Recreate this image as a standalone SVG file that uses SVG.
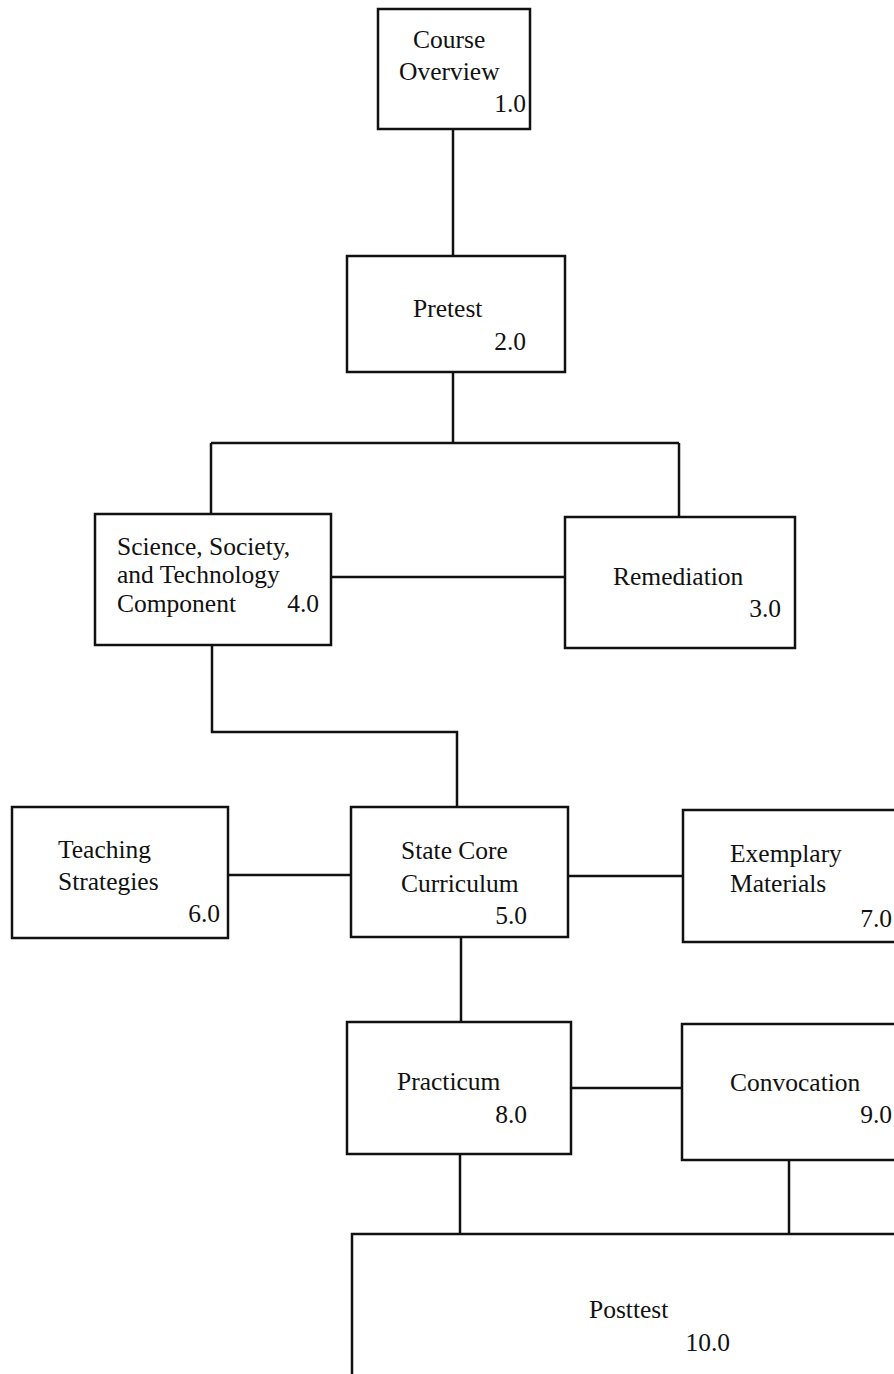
<svg xmlns="http://www.w3.org/2000/svg" width="894" height="1374" viewBox="0 0 894 1374">
<style>
.box{fill:#fff;stroke:#111;stroke-width:2.5}
.ln{fill:none;stroke:#111;stroke-width:2.5}
text{font-family:"Liberation Serif","Times New Roman",serif;font-size:25.5px;fill:#111}
.r{text-anchor:end}
</style>
<rect width="894" height="1374" fill="#fff"/>
<g id="connectors">
<path class="ln" d="M453 129 V256"/>
<path class="ln" d="M453 372 V443 M211 443 H679 M211 443 V514 M679 443 V517"/>
<path class="ln" d="M331 577 H565"/>
<path class="ln" d="M212 645 V732 H457 V807"/>
<path class="ln" d="M228 875 H351"/>
<path class="ln" d="M568 876 H683"/>
<path class="ln" d="M461 937 V1022"/>
<path class="ln" d="M571 1088 H682"/>
<path class="ln" d="M460 1154 V1234"/>
<path class="ln" d="M789 1160 V1234"/>
</g>
<g id="n1"><rect class="box" x="378" y="9" width="152" height="120"/>
<text x="413" y="48">Course</text><text x="399" y="80">Overview</text><text class="r" x="526" y="112">1.0</text></g>
<g id="n2"><rect class="box" x="347" y="256" width="218" height="116"/>
<text x="413" y="317">Pretest</text><text class="r" x="526" y="350">2.0</text></g>
<g id="n4"><rect class="box" x="95" y="514" width="236" height="131"/>
<text x="117" y="555">Science, Society,</text><text x="117" y="583">and Technology</text><text x="117" y="612">Component</text><text class="r" x="319" y="612">4.0</text></g>
<g id="n3"><rect class="box" x="565" y="517" width="230" height="131"/>
<text x="613" y="585">Remediation</text><text class="r" x="781" y="617">3.0</text></g>
<g id="n6"><rect class="box" x="12" y="807" width="216" height="131"/>
<text x="58" y="858">Teaching</text><text x="58" y="890">Strategies</text><text class="r" x="220" y="922">6.0</text></g>
<g id="n5"><rect class="box" x="351" y="807" width="217" height="130"/>
<text x="401" y="859">State Core</text><text x="401" y="892">Curriculum</text><text class="r" x="527" y="924">5.0</text></g>
<g id="n7"><rect class="box" x="683" y="810" width="240" height="132"/>
<text x="730" y="862">Exemplary</text><text x="730" y="892">Materials</text><text class="r" x="892" y="927">7.0</text></g>
<g id="n8"><rect class="box" x="347" y="1022" width="224" height="132"/>
<text x="397" y="1090">Practicum</text><text class="r" x="527" y="1123">8.0</text></g>
<g id="n9"><rect class="box" x="682" y="1024" width="240" height="136"/>
<text x="730" y="1091">Convocation</text><text class="r" x="892" y="1123">9.0</text></g>
<g id="n10"><rect class="box" x="352" y="1234" width="580" height="180"/>
<text x="589" y="1318">Posttest</text><text class="r" x="730" y="1351">10.0</text></g>
</svg>
